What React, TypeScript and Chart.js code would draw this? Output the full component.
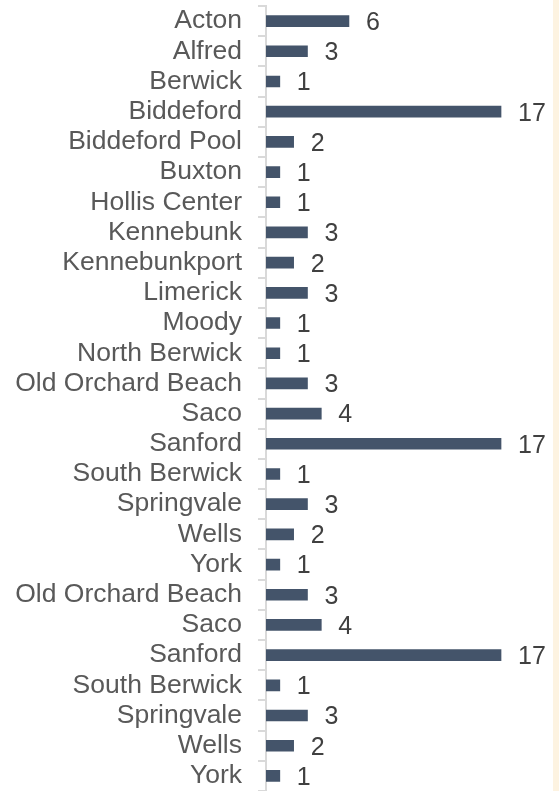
import React, { useEffect, useRef } from "react";
import { Chart, registerables } from "chart.js";

Chart.register(...registerables);

const categories = [
  "Acton", "Alfred", "Berwick", "Biddeford", "Biddeford Pool", "Buxton",
  "Hollis Center", "Kennebunk", "Kennebunkport", "Limerick", "Moody",
  "North Berwick", "Old Orchard Beach", "Saco", "Sanford", "South Berwick",
  "Springvale", "Wells", "York", "Old Orchard Beach", "Saco", "Sanford",
  "South Berwick", "Springvale", "Wells", "York",
];
const counts = [6, 3, 1, 17, 2, 1, 1, 3, 2, 3, 1, 1, 3, 4, 17, 1, 3, 2, 1, 3, 4, 17, 1, 3, 2, 1];

const FONT = "'Liberation Sans', Arial, sans-serif";

const valueLabels = {
  id: "valueLabels",
  afterDatasetsDraw(chart: any) {
    const ctx = chart.ctx;
    const meta = chart.getDatasetMeta(0);
    ctx.save();
    ctx.font = `25px ${FONT}`;
    ctx.fillStyle = "#404040";
    ctx.textAlign = "left";
    ctx.textBaseline = "middle";
    meta.data.forEach((bar: any, i: number) => {
      ctx.fillText(String(counts[i]), bar.x + 17, bar.y + 2);
    });
    ctx.restore();
  },
};

export default function App() {
  const ref = useRef<HTMLCanvasElement>(null);
  useEffect(() => {
    if (!ref.current) return;
    const chart = new Chart(ref.current, {
      type: "bar",
      data: {
        labels: categories,
        datasets: [
          {
            data: counts,
            backgroundColor: "#44546A",
            barThickness: 11,
          },
        ],
      },
      options: {
        indexAxis: "y",
        animation: false,
        responsive: false,
        maintainAspectRatio: false,
        layout: { padding: { top: 6, bottom: 0, left: 0, right: 10.5 } },
        plugins: { legend: { display: false }, tooltip: { enabled: false } },
        scales: {
          x: {
            display: false,
            min: 0,
            max: 20,
          },
          y: {
            offset: true,
            afterFit(scale: any) {
              scale.width = 266;
              scale.paddingTop = 0;
              scale.paddingBottom = 0;
            },
            grid: {
              display: true,
              drawOnChartArea: false,
              drawTicks: true,
              tickLength: 8,
              color: "#d9d9d9",
              lineWidth: 2,
              offset: true,
            },
            border: { display: true, color: "#d9d9d9", width: 2 },
            ticks: {
              color: "#595959",
              padding: 16,
              autoSkip: false,
              font: { family: FONT, size: 26.5 },
            },
          },
        },
      },
      plugins: [valueLabels],
    });
    return () => chart.destroy();
  }, []);
  return (
    <div style={{ position: "fixed", left: 0, top: 0, width: 559, height: 791, background: "#ffffff" }}>
      <canvas ref={ref} width={553} height={791} style={{ position: "absolute", left: 0, top: 0 }} />
      <div style={{ position: "absolute", left: 553, top: 0, width: 6, height: 791, background: "#FDF3E1" }} />
    </div>
  );
}
